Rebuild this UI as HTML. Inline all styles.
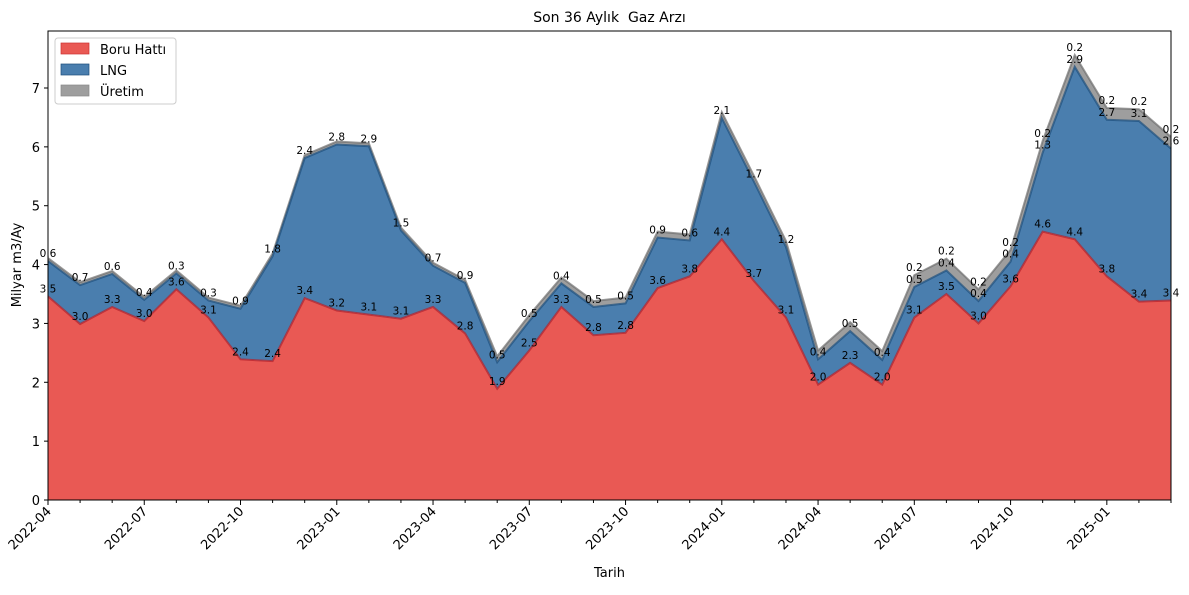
<!DOCTYPE html>
<html><head><meta charset="utf-8"><style>
body{margin:0;background:#fff;font-family:"Liberation Sans","DejaVu Sans",sans-serif}
svg text{font-family:"DejaVu Sans","Liberation Sans",sans-serif}
</style></head><body>
<svg id="c" width="1189" height="590"></svg>
<script>
const months=["2022-04","2022-05","2022-06","2022-07","2022-08","2022-09","2022-10","2022-11","2022-12","2023-01","2023-02","2023-03","2023-04","2023-05","2023-06","2023-07","2023-08","2023-09","2023-10","2023-11","2023-12","2024-01","2024-02","2024-03","2024-04","2024-05","2024-06","2024-07","2024-08","2024-09","2024-10","2024-11","2024-12","2025-01","2025-02","2025-03"];
const boru=[3.46,2.99,3.28,3.04,3.58,3.1,2.39,2.36,3.43,3.22,3.15,3.08,3.28,2.83,1.89,2.54,3.28,2.8,2.84,3.6,3.8,4.43,3.72,3.1,1.96,2.33,1.96,3.1,3.5,3.0,3.63,4.56,4.43,3.8,3.37,3.39];
const lng=[0.6,0.66,0.56,0.36,0.27,0.29,0.86,1.78,2.38,2.82,2.86,1.5,0.7,0.86,0.45,0.5,0.4,0.48,0.5,0.86,0.61,2.06,1.69,1.2,0.43,0.54,0.42,0.52,0.4,0.38,0.42,1.34,2.93,2.66,3.07,2.58];
const uretim=[0.05,0.05,0.05,0.05,0.05,0.05,0.05,0.05,0.05,0.05,0.05,0.05,0.05,0.05,0.1,0.1,0.1,0.1,0.1,0.1,0.1,0.1,0.1,0.1,0.15,0.15,0.15,0.2,0.2,0.2,0.2,0.2,0.2,0.2,0.2,0.2];
const yTicks=[0,1,2,3,4,5,6,7];
const NS="http://www.w3.org/2000/svg";
const svg=document.getElementById('c');
const L=48,R=1171,T=31,B=500;
const xs=i=>L+(R-L)*i/(months.length-1);
const ys=v=>B-v*(500-88)/7;
function el(t,a,p){const e=document.createElementNS(NS,t);for(const k in a)e.setAttribute(k,a[k]);(p||svg).appendChild(e);return e;}
function txt(s,a){const e=el('text',a);e.textContent=s;return e;}
const c1=boru.map(v=>v), c2=boru.map((v,i)=>v+lng[i]), c3=c2.map((v,i)=>v+uretim[i]);
function area(lo,hi,fill,stroke,name){
 let d='M'+xs(0)+','+ys(hi[0]);
 for(let i=1;i<hi.length;i++)d+='L'+xs(i)+','+ys(hi[i]);
 for(let i=lo.length-1;i>=0;i--)d+='L'+xs(i)+','+ys(lo[i]);
 const p=el('path',{d:d+'Z',fill:fill,stroke:'none'});
 
 
 let l='M'+xs(0)+','+ys(hi[0]);
 for(let i=1;i<hi.length;i++)l+='L'+xs(i)+','+ys(hi[i]);
 el('path',{d:l,fill:'none',stroke:stroke,'stroke-width':2,'stroke-opacity':0.7});
}
const zero=boru.map(()=>0);
area(c2,c3,'#9e9e9e','#6e6e6e','uretim-area');
area(c1,c2,'#4a7eae','#1d4f7c','lng-area');
area(zero,c1,'#e95954','#b21f2a','boru-area');
function lab(arr,cum,name){arr.forEach((v,i)=>{if(v<0.195)return;const t=txt(v.toFixed(1),{x:xs(i),y:ys(cum[i])-4,'font-size':10.5,'text-anchor':'middle',fill:'#000'});});}
lab(boru,c1,'boru-label');lab(lng,c2,'lng-label');lab(uretim,c3,'uretim-label');
el('rect',{x:L,y:T,width:R-L,height:B-T,fill:'none',stroke:'#000','stroke-width':1});
yTicks.forEach(v=>{el('line',{x1:L-4,x2:L,y1:ys(v),y2:ys(v),stroke:'#000'});const t=txt(String(v),{x:L-8,y:ys(v)+5,'font-size':13,'text-anchor':'end'});});
months.forEach((m,i)=>{const maj=i%3===0;el('line',{x1:xs(i),x2:xs(i),y1:B,y2:B+(maj?5:3),stroke:'#000'});
 if(maj){const t=txt(m,{x:xs(i)+4,y:B+12,'font-size':13,'text-anchor':'end',transform:`rotate(-45 ${xs(i)+4} ${B+12})`});}});
const ti=txt('Son 36 Aylık\u00a0 Gaz Arzı',{x:(L+R)/2,y:22,'font-size':14,'text-anchor':'middle'});
const xt=txt('Tarih',{x:(L+R)/2,y:577,'font-size':13,'text-anchor':'middle'});
const yt=txt('Milyar m3/Ay',{x:21,y:265,'font-size':13,'text-anchor':'middle',transform:'rotate(-90 21 265)'});
const lg=el('g',{});
el('rect',{x:55,y:38,width:121,height:66,rx:3,fill:'#fff','fill-opacity':0.8,stroke:'#ccc'},lg);
[['Boru Hattı','#e95954','#c33'],['LNG','#4a7eae','#1d4f7c'],['Üretim','#9e9e9e','#888']].forEach((e,k)=>{
 el('rect',{x:61,y:43+k*21,width:28,height:11,fill:e[1],stroke:e[2],'stroke-width':0.7},lg);
 const t=el('text',{x:100,y:54+k*21,'font-size':13},lg);t.textContent=e[0];
 });
</script>
</body></html>
